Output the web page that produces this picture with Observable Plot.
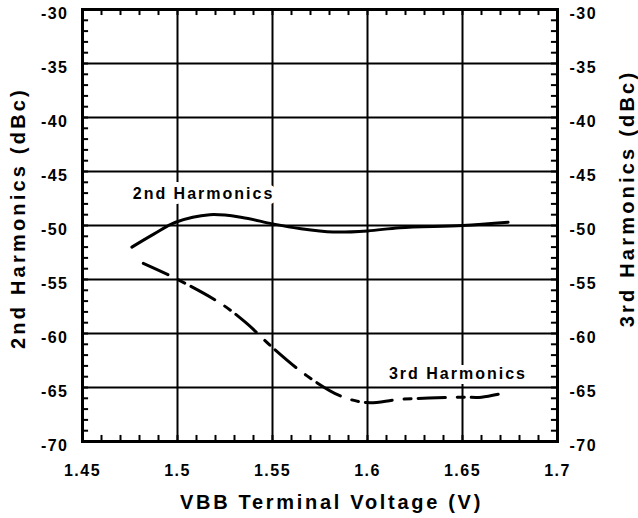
<!DOCTYPE html>
<html>
<head>
<meta charset="utf-8">
<script src="https://cdn.jsdelivr.net/npm/d3@7"></script>
<script src="https://cdn.jsdelivr.net/npm/@observablehq/plot@0.6"></script>
<style>
  body { margin: 0; background: #fff; }
  svg text { font-family: "Liberation Sans", Arial, sans-serif; font-weight: bold; }
</style>
</head>
<body>
<div id="chart"></div>
<script>
// X: VBB terminal voltage (V)
const xTicks = [1.45, 1.5, 1.55, 1.6, 1.65, 1.7];
const yTicks = [-70, -65, -60, -55, -50, -45, -40, -35, -30];
const xGrid = [1.5, 1.55, 1.6, 1.65];
const yGrid = [-65, -60, -55, -50, -45, -40, -35];
const xMinor = d3.range(146, 170).map(d => d / 100);
const yMinor = d3.range(-69, -30).map(d => d);

// 2nd harmonics (solid)
const volt2 = [1.476, 1.4875, 1.499, 1.517, 1.534, 1.55, 1.565, 1.582, 1.6, 1.617, 1.65, 1.674];
const harm2 = [-52.0, -50.8, -49.7, -49.0, -49.25, -49.85, -50.3, -50.6, -50.5, -50.2, -50.0, -49.7];

// 3rd harmonics (dash-dot)
const volt3 = [1.482, 1.499, 1.5226, 1.536, 1.55, 1.568, 1.586, 1.6, 1.617, 1.65, 1.66, 1.672];
const harm3 = [-53.5, -54.9, -57.2, -59.0, -61.3, -63.9, -65.8, -66.4, -66.1, -65.9, -65.9, -65.5];

const seriesLabels = ["2nd Harmonics", "3rd Harmonics"];
const labelX = [1.5137, 1.6476];
const labelY = [-47.1, -63.73];

const xTitle = "VBB Terminal Voltage (V)";
const yLeftTitle = "2nd Harmonics (dBc)";
const yRightTitle = "3rd Harmonics (dBc)";

const s2 = volt2.map((v, i) => ({v, h: harm2[i]}));
const s3 = volt3.map((v, i) => ({v, h: harm3[i]}));
const lbl = seriesLabels.map((t, i) => ({t, x: labelX[i], y: labelY[i]}));

const fmt = d => String(d);
const tx = 0.56;     // minor tick length in dB units (~6px)
const ty = 0.0032;   // minor tick length in V units (~6px)

const chart = Plot.plot({
  width: 638,
  height: 518,
  marginLeft: 82,
  marginRight: 81,
  marginTop: 9,
  marginBottom: 77,
  style: { fontFamily: "Liberation Sans, Arial, sans-serif", background: "white", color: "black" },
  x: { domain: [1.45, 1.7] },
  y: { domain: [-70, -30] },
  marks: [
    Plot.gridX(xGrid, { stroke: "black", strokeOpacity: 1, strokeWidth: 2 }),
    Plot.gridY(yGrid, { stroke: "black", strokeOpacity: 1, strokeWidth: 2 }),
    // inward minor ticks on all four sides
    Plot.ruleX(xMinor, { x: d => d, y1: -70, y2: -70 + tx, stroke: "black", strokeWidth: 2 }),
    Plot.ruleX(xMinor, { x: d => d, y1: -30, y2: -30 - tx, stroke: "black", strokeWidth: 2 }),
    Plot.ruleY(yMinor, { y: d => d, x1: 1.45, x2: 1.45 + ty, stroke: "black", strokeWidth: 2 }),
    Plot.ruleY(yMinor, { y: d => d, x1: 1.7, x2: 1.7 - ty, stroke: "black", strokeWidth: 2 }),
    // tick labels
    Plot.axisX({ anchor: "bottom", ticks: xTicks, tickSize: 0, tickPadding: 23, tickFormat: fmt, label: null, fontSize: 16, fontWeight: "bold" }),
    Plot.axisY({ anchor: "left", ticks: yTicks, tickSize: 0, tickPadding: 14, tickFormat: fmt, label: null, fontSize: 16, fontWeight: "bold", dy: 4.5 }),
    Plot.axisY({ anchor: "right", ticks: yTicks, tickSize: 0, tickPadding: 12, tickFormat: fmt, label: null, fontSize: 16, fontWeight: "bold", dy: 4.5 }),
    Plot.frame({ stroke: "black", strokeWidth: 3 }),
    Plot.line(s2, { x: "v", y: "h", stroke: "black", strokeWidth: 3, curve: "catmull-rom" }),
    Plot.line(s3, { x: "v", y: "h", stroke: "black", strokeWidth: 3, curve: "catmull-rom", strokeDasharray: "27,12,7,7" }),
    Plot.text(lbl, { x: "x", y: "y", text: "t", fontSize: 16, fontWeight: "bold", fill: "black", stroke: "white", strokeWidth: 10, paintOrder: "stroke", lineAnchor: "middle", textAnchor: "middle" }),
    Plot.text([xTitle], { frameAnchor: "bottom", dy: 60.7, dx: 11.5, fontSize: 20, fontWeight: "bold", lineAnchor: "middle", textAnchor: "middle" }),
    Plot.text([yLeftTitle], { frameAnchor: "left", rotate: -90, dx: -64, dy: -7.5, fontSize: 20, fontWeight: "bold", lineAnchor: "middle", textAnchor: "middle" }),
    Plot.text([yRightTitle], { frameAnchor: "right", rotate: -90, dx: 70, dy: -27, fontSize: 20, fontWeight: "bold", lineAnchor: "middle", textAnchor: "middle" })
  ]
});
// letter spacing (Plot has no option for it)
d3.select(chart).selectAll("text").each(function () {
  const t = this.textContent;
  let ls = "1.5px";
  if (t === xTitle) ls = "2.7px";
  else if (t === yLeftTitle || t === yRightTitle) ls = "3.2px";
  else if (seriesLabels.includes(t)) ls = "2px";
  d3.select(this).style("letter-spacing", ls);
});
document.getElementById("chart").appendChild(chart);
</script>
</body>
</html>
